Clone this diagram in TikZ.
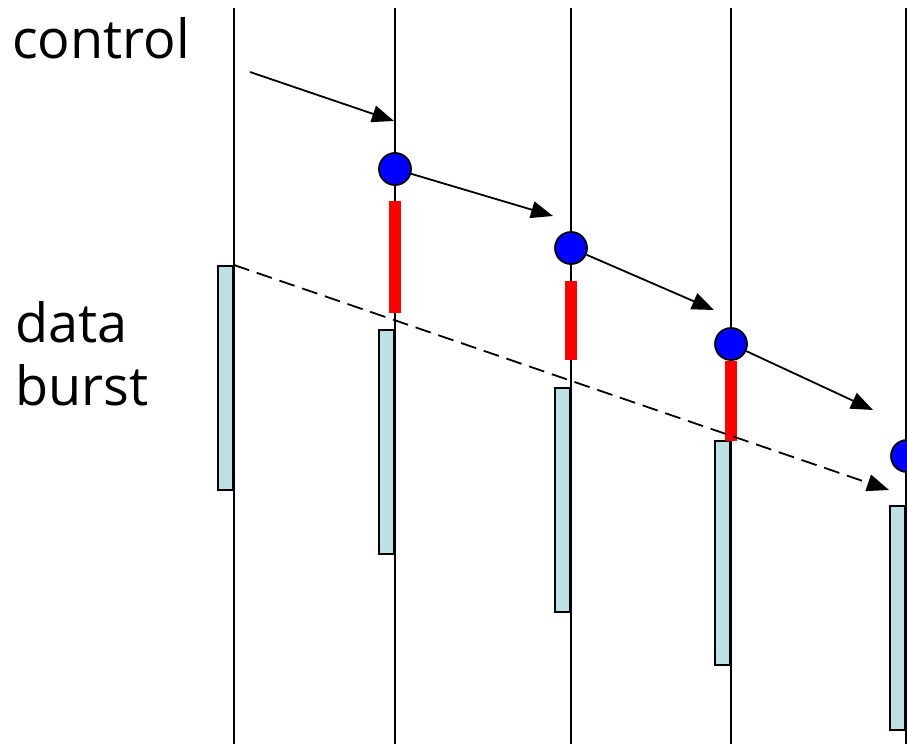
\documentclass[tikz,border=0pt]{standalone}
\usepackage{fontspec}
\setmainfont{Open Sans}
\usetikzlibrary{arrows.meta}
\definecolor{burstcyan}{RGB}{188,224,227}
\definecolor{ctrlblue}{RGB}{0,0,255}
\tikzset{
  timeline/.style={line width=1.8pt, black},
  ctrlarrow/.style={line width=1.8pt, -{Triangle[length=22pt,width=17pt]}},
  dataarrow/.style={line width=1.8pt, dash pattern=on 16pt off 8pt, -{Triangle[length=22pt,width=17pt]}},
  ctrldot/.style={circle, draw=black, line width=1.8pt, fill=ctrlblue, minimum size=32pt, inner sep=0pt},
  redbar/.style={fill=red, draw=none, minimum width=12pt, inner sep=0pt},
  burstbox/.style={fill=burstcyan, draw=black, line width=1.8pt, minimum width=15pt, minimum height=224pt, inner sep=0pt},
  lbl/.style={font=\fontsize{54}{63}\selectfont, anchor=base west, inner sep=0pt, align=left}
}
\begin{document}
\begin{tikzpicture}[x=1pt,y=-1pt]
\useasboundingbox (0,0) rectangle (907,744);
\clip (0,0) rectangle (907,744);
% timelines
\foreach \n/\x in {1/234,2/395,3/571,4/731,5/906}{
  \coordinate (t\n) at (\x,8);
  \coordinate (b\n) at (\x,744);
  \draw[timeline] (t\n) -- (b\n);
}
% burst boxes
\node[burstbox, anchor=north east] (d1) at (234,265) {};
\node[burstbox, anchor=north east] (d2) at (395,329) {};
\node[burstbox, anchor=north east] (d3) at (571,387) {};
\node[burstbox, anchor=north east] (d4) at (731,440) {};
\node[burstbox, anchor=north east] (d5) at (906,505) {};
% red bars
\node[redbar, minimum height=112pt, anchor=north] (r1) at (395,201) {};
\node[redbar, minimum height=79pt, anchor=north] (r2) at (571,281) {};
\node[redbar, minimum height=80pt, anchor=north] (r3) at (731,361) {};
% control dots
\node[ctrldot] (c1) at (395,169) {};
\node[ctrldot] (c2) at (571,248) {};
\node[ctrldot] (c3) at (731,344) {};
\node[ctrldot] (c4) at (907,456) {};
% arrow end points
\coordinate (s0) at (250,72);
\coordinate (e0) at (394,121);
\coordinate (e1) at (553,216);
\coordinate (e2) at (714,310);
\coordinate (e3) at (873,410);
\coordinate (de) at (889,490);
\draw[ctrlarrow] (s0) -- (e0);
\draw[ctrlarrow] (c1) -- (e1);
\draw[ctrlarrow] (c2) -- (e2);
\draw[ctrlarrow] (c3) -- (e3);
\draw[dataarrow] (d1.north east) -- (de);
% labels
\node[lbl] (lc) at (12,58) {control};
\node[lbl] (ld) at (15,342) {data};
\node[lbl] (lb) at (15,405) {burst};
\end{tikzpicture}
\end{document}
